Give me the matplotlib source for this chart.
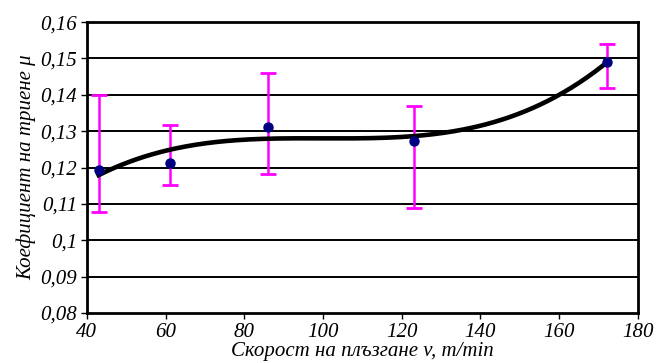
import numpy as np
import matplotlib.pyplot as plt

# measured points (sliding speed v, friction coefficient mu)
speed = [43.0, 61.1, 86.1, 123.1, 172.1]
mu = [0.1193, 0.1213, 0.1312, 0.1274, 0.1491]
mu_low = [0.1079, 0.1152, 0.1183, 0.1090, 0.1420]
mu_high = [0.1400, 0.1317, 0.1459, 0.1369, 0.1541]

xticks = [40, 60, 80, 100, 120, 140, 160, 180]
yticks = [0.08, 0.09, 0.10, 0.11, 0.12, 0.13, 0.14, 0.15, 0.16]
ytick_labels = ["0,08", "0,09", "0,1", "0,11", "0,12", "0,13", "0,14", "0,15", "0,16"]

plt.rcParams['font.family'] = ['Liberation Serif', 'DejaVu Serif']
plt.rcParams['font.style'] = 'italic'

fig = plt.figure(figsize=(6.68, 3.63), dpi=100)
ax = fig.add_axes([0.130, 0.138, 0.825, 0.801])

for y in yticks[1:-1]:
    ax.axhline(y, color='black', lw=1.4, zorder=1)

# 3rd order polynomial trend line (as in the original spreadsheet)
coef = np.polyfit(speed, mu, 3)
xs = np.linspace(speed[0], speed[-1], 200)
ax.plot(xs, np.polyval(coef, xs), color='black', lw=3.3, zorder=3)

err = [np.array(mu) - np.array(mu_low), np.array(mu_high) - np.array(mu)]
ax.errorbar(speed, mu, yerr=err, fmt='none', ecolor='#FF00FF', elinewidth=1.8,
            capsize=6, capthick=2, zorder=2)
ax.plot(speed, mu, 'o', color='#000080', ms=6.5, zorder=4)

ax.set_xlim(40, 180)
ax.set_ylim(0.08, 0.16)
ax.set_xticks(xticks)
ax.set_yticks(yticks)
ax.set_yticklabels(ytick_labels)
ax.tick_params(labelsize=15, length=4, width=1, direction='out', pad=3)
for s in ax.spines.values():
    s.set_linewidth(2)

ax.set_xlabel("Скорост на плъзгане v, m/min", fontsize=15, labelpad=0)
ax.set_ylabel("Коефициент на триене μ", fontsize=15, labelpad=3)

fig.savefig("out.png", dpi=100)
